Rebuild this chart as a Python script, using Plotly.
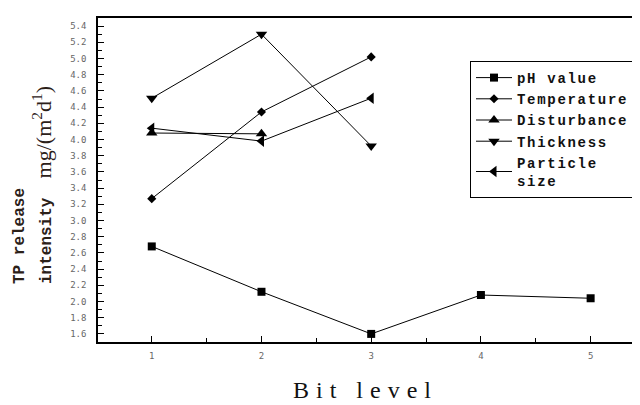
import plotly.graph_objects as go

levels = [1, 2, 3, 4, 5]
ph_value = [2.68, 2.12, 1.60, 2.08, 2.04]
temperature = [3.27, 4.34, 5.02]
disturbance = [4.08, 4.07]
thickness = [4.51, 5.30, 3.92]
particle_size = [4.14, 3.98, 4.51]
y_ticks = [round(1.6 + 0.2 * i, 1) for i in range(20)]

series = [
    ("pH value", ph_value, "square", 8),
    ("Temperature", temperature, "diamond", 7),
    ("Disturbance", disturbance, "triangle-up", 10),
    ("Thickness", thickness, "triangle-down", 10),
    ("Particle<br>size", particle_size, "triangle-left", 10),
]

fig = go.Figure()
for name, vals, sym, sz in series:
    fig.add_trace(go.Scatter(
        x=levels[:len(vals)], y=vals,
        name="<span style='letter-spacing:1.7px'>" + name + "</span>",
        mode="lines+markers",
        line=dict(color="black", width=1),
        marker=dict(symbol=sym, size=sz, color="black"),
    ))

# page body has an 8px margin; work in screen pixels and shift
OFF = 8
W, H = 640 - OFF, 405 - OFF
L, R, T, B = 98 - OFF, 0, 18 - OFF, 405 - 342
pw, ph = W - L - R, H - T - B

def px(xs):
    return (xs - OFF - L) / pw

def py(ys):
    return (H - B - (ys - OFF)) / ph

tickfont = dict(family="DejaVu Sans Mono", size=9, color="#666")
fig.update_layout(
    width=W, height=H,
    margin=dict(l=L, r=R, t=T, b=B, autoexpand=False),
    paper_bgcolor="white", plot_bgcolor="white",
    showlegend=True,
    legend=dict(
        x=px(470), y=py(61), xanchor="left", yanchor="top",
        bordercolor="black", borderwidth=1, bgcolor="white",
        font=dict(family="Liberation Mono", size=14, color="#111", weight="bold"),
        itemwidth=36, tracegroupgap=0,
    ),
    xaxis=dict(
        range=[0.51, 5.45], tickvals=levels, ticktext=[str(v) for v in levels],
        showgrid=False, zeroline=False,
        showline=True, linecolor="black", linewidth=1.5, mirror=True,
        ticks="inside", ticklen=6, tickcolor="black", tickwidth=1,
        minor=dict(ticks="inside", ticklen=4, dtick=0.5, tick0=0.5, tickcolor="black", showgrid=False),
        tickfont=tickfont, ticklabelstandoff=4,
    ),
    yaxis=dict(
        range=[1.5, 5.5], tickvals=y_ticks, ticktext=[f"{v:.1f}" for v in y_ticks],
        showgrid=False, zeroline=False,
        showline=True, linecolor="black", linewidth=1.5, mirror=False,
        ticks="inside", ticklen=6, tickcolor="black", tickwidth=1,
        minor=dict(ticks="inside", ticklen=4, dtick=0.1, tick0=1.5, tickcolor="black", showgrid=False),
        tickfont=tickfont, ticklabelstandoff=8,
    ),
    annotations=[
        dict(text="<span style='letter-spacing:7px'>Bit level</span>", xref="paper", yref="paper",
             x=px(365), y=py(390),
             xanchor="center", yanchor="middle", showarrow=False,
             font=dict(family="Liberation Serif", size=24, color="#111")),
        dict(text="<b>TP release</b>", xref="paper", yref="paper", x=px(20), y=py(286),
             xanchor="center", yanchor="bottom", textangle=-90, showarrow=False,
             font=dict(family="Liberation Mono", size=16, color="#2b2018")),
        dict(text="<b>intensity</b>  <span style='font-family:Liberation Serif;font-size:22px'>mg/(m<sup>2</sup>d<sup>1</sup>)</span>",
             xref="paper", yref="paper", x=px(42), y=py(286),
             xanchor="center", yanchor="bottom", textangle=-90, showarrow=False,
             font=dict(family="Liberation Mono", size=16, color="#2b2018")),
    ],
)

fig.write_html("out.html")
